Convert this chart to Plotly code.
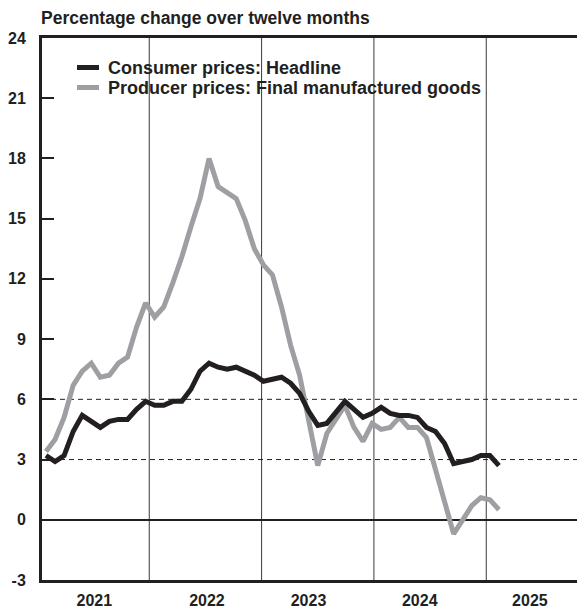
import plotly.graph_objects as go

# Monthly data, Jan 2021 .. Mar 2025
months = [f"{y}-{m:02d}" for y in range(2021, 2026) for m in range(1, 13)][:51]

consumer_headline = [
    3.2, 2.9, 3.2, 4.4, 5.2, 4.9, 4.6, 4.9, 5.0, 5.0, 5.5, 5.9,
    5.7, 5.7, 5.9, 5.9, 6.5, 7.4, 7.8, 7.6, 7.5, 7.6, 7.4, 7.2,
    6.9, 7.0, 7.1, 6.8, 6.3, 5.4, 4.7, 4.8, 5.4, 5.9, 5.5, 5.1,
    5.3, 5.6, 5.3, 5.2, 5.2, 5.1, 4.6, 4.4, 3.8, 2.8, 2.9, 3.0,
    3.2, 3.2, 2.7,
]
producer_final_mfg = [
    3.4, 4.0, 5.1, 6.7, 7.4, 7.8, 7.1, 7.2, 7.8, 8.1, 9.6, 10.8,
    10.1, 10.6, 11.8, 13.1, 14.6, 16.0, 18.0, 16.6, 16.3, 16.0, 14.9, 13.5,
    12.7, 12.2, 10.6, 8.7, 7.2, 4.8, 2.7, 4.3, 5.0, 5.7, 4.6, 3.9,
    4.8, 4.5, 4.6, 5.1, 4.6, 4.6, 4.1, 2.5, 0.9, -0.7, 0.0, 0.7,
    1.1, 1.0, 0.5,
]
series_names = ["Consumer prices: Headline", "Producer prices: Final manufactured goods"]
year_labels = ["2021", "2022", "2023", "2024", "2025"]
y_ticks = [-3, 0, 3, 6, 9, 12, 15, 18, 21, 24]
title_text = "Percentage change over twelve months"

# positions (month-index units) of year separators and labels as drawn in the source
year_label_pos = [5.34, 17.77, 28.98, 41.26, 53.42]
year_sep_pos = [11.4, 23.8, 36.2, 48.6]

BLACK = "#231f20"
GREY = "#9d9fa2"
FONT = "Liberation Sans"

x = list(range(len(months)))

OFF = 8  # page body margin
W, H = 585 - OFF, 615 - OFF
L, R, T, B = 42 - OFF, 0, 38 - OFF, 35
PW, PH = W - L - R, H - T - B


def px(xs):  # screen x -> paper
    return (xs - OFF - L) / PW


def py(ys):  # screen y -> paper
    return (H - B - (ys - OFF)) / PH


fig = go.Figure()
fig.add_trace(go.Scatter(x=x, y=producer_final_mfg, mode="lines", name=series_names[1],
                         line=dict(color=GREY, width=5), showlegend=False))
fig.add_trace(go.Scatter(x=x, y=consumer_headline, mode="lines", name=series_names[0],
                         line=dict(color=BLACK, width=5), showlegend=False))

shapes = []
for xs in year_sep_pos:
    shapes.append(dict(type="line", xref="x", yref="paper", x0=xs, x1=xs, y0=0, y1=1,
                       line=dict(color="#3a3a3a", width=1), layer="below"))
for yv in [3, 6]:
    shapes.append(dict(type="line", xref="paper", yref="y", x0=0, x1=1, y0=yv, y1=yv,
                       line=dict(color=BLACK, width=1, dash="5px,4px"), layer="below"))
# legend samples
for i, col in enumerate([BLACK, GREY]):
    yy = 67.5 + 20 * i
    shapes.append(dict(type="line", xref="paper", yref="paper", x0=px(77), x1=px(99),
                       y0=py(yy), y1=py(yy), line=dict(color=col, width=5)))

annotations = [
    dict(text=title_text, xref="paper", yref="paper", x=px(39), y=py(18),
         xanchor="left", yanchor="middle", showarrow=False,
         font=dict(family=FONT, size=17.5, color=BLACK, weight="bold")),
]
for i, name in enumerate(series_names):
    yy = 68 + 20 * i
    annotations.append(dict(text=name, xref="paper", yref="paper", x=px(106), y=py(yy),
                            xanchor="left", yanchor="middle", showarrow=False,
                            font=dict(family=FONT, size=18, color=BLACK, weight="bold")))

fig.update_layout(
    width=W, height=H,
    margin=dict(l=L, r=R, t=T, b=B, pad=0),
    paper_bgcolor="white", plot_bgcolor="white",
    shapes=shapes, annotations=annotations,
    xaxis=dict(range=[-0.44, 59.5], showgrid=False, zeroline=False,
               tickmode="array", tickvals=year_label_pos, ticktext=year_labels,
               ticks="", showline=True, linewidth=3, linecolor=BLACK, mirror=True,
               tickfont=dict(family=FONT, size=16, color=BLACK, weight="bold"),
               ticklabelstandoff=4),
    yaxis=dict(range=[-3, 24], showgrid=False, zeroline=True, zerolinecolor=BLACK,
               zerolinewidth=2, tickmode="array", tickvals=y_ticks,
               ticktext=[str(v) for v in y_ticks],
               ticks="inside", ticklen=12, tickwidth=2, tickcolor=BLACK,
               showline=True, linewidth=3, linecolor=BLACK,
               tickfont=dict(family=FONT, size=16, color=BLACK, weight="bold"),
               ticklabelstandoff=10),
    showlegend=False,
)

fig.write_html("out.html")
